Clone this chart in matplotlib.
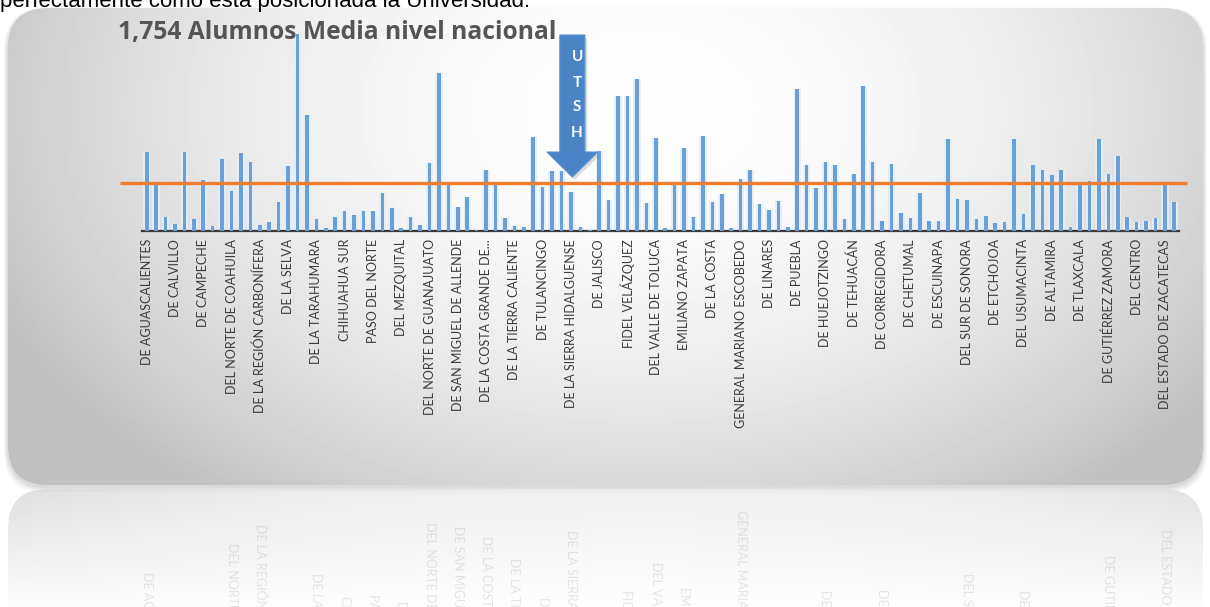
import numpy as np
import matplotlib
matplotlib.use("Agg")
import matplotlib.pyplot as plt
from matplotlib.patches import FancyBboxPatch, Polygon
from matplotlib.transforms import blended_transform_factory

# ---------------- data ----------------
values = [2920, 1750, 500, 240, 2900, 430, 1880, 190, 2660, 1450,
          2870, 2520, 210, 310, 1070, 2400, 7240, 4280, 430, 100,
          520, 730, 570, 730, 730, 1380, 830, 90, 500, 210,
          2490, 5820, 1750, 870, 1260, 40, 2250, 1690, 460, 170,
          120, 3470, 1600, 2210, 2190, 1410, 150, 20, 2930, 1150,
          4980, 4980, 5600, 1010, 3420, 90, 1810, 3050, 520, 3500,
          1040, 1360, 90, 1900, 2250, 990, 770, 1100, 130, 5210,
          2430, 1590, 2520, 2410, 420, 2100, 5330, 2520, 360, 2470,
          670, 460, 1380, 360, 360, 3390, 1160, 1140, 420, 540,
          300, 330, 3390, 610, 2410, 2220, 2060, 2250, 150, 1780,
          1840, 3380, 2100, 2760, 520, 330, 360, 460, 1750, 1070]

tick_labels = ["DE AGUASCALIENTES", "DE CALVILLO", "DE CAMPECHE", "DEL NORTE DE COAHUILA",
               "DE LA REGIÓN CARBONÍFERA", "DE LA SELVA", "DE LA TARAHUMARA", "CHIHUAHUA SUR",
               "PASO DEL NORTE", "DEL MEZQUITAL", "DEL NORTE DE GUANAJUATO",
               "DE SAN MIGUEL DE ALLENDE", "DE LA COSTA GRANDE DE...", "DE LA TIERRA CALIENTE",
               "DE TULANCINGO", "DE LA SIERRA HIDALGUENSE", "DE JALISCO", "FIDEL VELÁZQUEZ",
               "DEL VALLE DE TOLUCA", "EMILIANO ZAPATA", "DE LA COSTA",
               "GENERAL MARIANO ESCOBEDO", "DE LINARES", "DE PUEBLA", "DE HUEJOTZINGO",
               "DE TEHUACÁN", "DE CORREGIDORA", "DE CHETUMAL", "DE ESCUINAPA",
               "DEL SUR DE SONORA", "DE ETCHOJOA", "DEL USUMACINTA", "DE ALTAMIRA",
               "DE TLAXCALA", "DE GUTIÉRREZ ZAMORA", "DEL CENTRO", "DEL ESTADO DE ZACATECAS"]
label_step = 3
national_mean = 1754
utsh_label = "DE LA SIERRA HIDALGUENSE"
title = "1,754 Alumnos Media nivel nacional"
top_text = "perfectamente cómo esta posicionada la Universidad."

# ---------------- figure ----------------
W, H = 1210, 607
fig = plt.figure(figsize=(W / 100, H / 100), dpi=100)
fig.patch.set_facecolor("white")

# background axes in pixel coordinates
bg = fig.add_axes([0, 0, 1, 1])
bg.set_xlim(0, W)
bg.set_ylim(H, 0)
bg.axis("off")
bg.set_zorder(0)

# shadow of the panel
for i, a in enumerate([0.05, 0.05, 0.06, 0.07]):
    g = 8 - 2 * i
    sh = FancyBboxPatch((8 - g * 0.5, 10 - g * 0.3), 1195 + g, 477 + g,
                        boxstyle="round,pad=0,rounding_size=42",
                        facecolor="#606060", edgecolor="none", alpha=a)
    bg.add_patch(sh)

# gradient panel
yy, xx = np.mgrid[0:H, 0:W]
dx = (xx - 640) / 640.0
dy = (yy - 110) / 440.0
r2 = dx ** 2 + dy ** 2
grey = np.clip(0.995 - 0.20 * r2, 0.75, 0.995)
panel = FancyBboxPatch((8, 8), 1195, 477, boxstyle="round,pad=0,rounding_size=40",
                       facecolor="none", edgecolor="none")
bg.add_patch(panel)
im = bg.imshow(grey, cmap="gray", vmin=0, vmax=1, extent=(0, W, H, 0),
               interpolation="bilinear", zorder=1)
im.set_clip_path(panel)

# reflection
refl = FancyBboxPatch((8, 489), 1195, 200, boxstyle="round,pad=0,rounding_size=40",
                      facecolor="none", edgecolor="none")
bg.add_patch(refl)
rgba = np.zeros((H, W, 4))
rg = np.clip(0.93 - 0.10 * dx ** 2, 0.8, 0.95)
rgba[..., 0] = rg
rgba[..., 1] = rg
rgba[..., 2] = rg
rgba[..., 3] = np.clip(0.75 * (1 - (yy - 489) / 125.0), 0, 0.75)
im2 = bg.imshow(rgba, extent=(0, W, H, 0), interpolation="bilinear", zorder=1)
im2.set_clip_path(refl)

# top text (partly cut)
fig.text(0, (H - 7) / H, top_text, fontsize=16, family="Liberation Sans",
         color="black", va="baseline", ha="left")

# ---------------- chart axes ----------------
x0_px, x1_px = 142, 1179
base_px, top_px = 230.7, 30
ax = fig.add_axes([x0_px / W, (H - base_px) / H, (x1_px - x0_px) / W, (base_px - top_px) / H])
ax.set_zorder(2)
ax.patch.set_alpha(0)
n = len(values)
x = np.arange(n)
ax.set_xlim(-0.5, n - 0.5)
ax.set_ylim(0, 7400)

ax.bar(x, values, width=0.78, color="#e4eef8", alpha=0.9, zorder=2)
ax.bar(x, values, width=0.38, color="#6a9fd8", zorder=3)

ax.hlines(national_mean, -2.8, n + 0.4, colors="#ed7d31", linewidth=2.4, zorder=4,
          clip_on=False)

for s in ["top", "right", "left"]:
    ax.spines[s].set_visible(False)
ax.spines["bottom"].set_color("#3a3a3a")
ax.spines["bottom"].set_linewidth(1.6)
ax.set_yticks([])
tick_pos = x[::label_step][:len(tick_labels)]
ax.set_xticks(tick_pos)
ax.set_xticklabels(tick_labels, rotation=90, fontsize=9, family="Lato", color="#3c3c3c")
ax.tick_params(axis="x", length=0, pad=6)

# title
fig.text(118 / W, (H - 39) / H, title, fontsize=17.7, fontweight="bold", family="Open Sans",
         color="#555555", ha="left", va="baseline")

# UTSH arrow
utsh_idx = tick_pos[tick_labels.index(utsh_label)]
tr = blended_transform_factory(ax.transData, bg.transData)
cx = utsh_idx + 0.15
sw, hw = 1.33, 2.7
arrow_pts = [(cx - sw, 35), (cx + sw, 35), (cx + sw, 152), (cx + hw, 152),
             (cx, 177), (cx - hw, 152), (cx - sw, 152)]
shadow_pts = [(px + 0.25, py + 3) for px, py in arrow_pts]
ax.add_patch(Polygon(shadow_pts, closed=True, facecolor="#7a7a7a", alpha=0.25,
                     edgecolor="none", transform=tr, clip_on=False, zorder=5))
ax.add_patch(Polygon(arrow_pts, closed=True, facecolor="#4a84c7", edgecolor="#5a92d0",
                     linewidth=0.8, transform=tr, clip_on=False, zorder=6))
for ch, py in zip("UTSH", [57, 83, 107, 133]):
    ax.text(cx + 0.5, py, ch, transform=tr, color="white", fontsize=11, family="Lato",
            fontweight="bold", ha="center", va="center", zorder=7, clip_on=False)

# faint reflected labels
mirror_y = 468
for pos, lab in zip(tick_pos, tick_labels):
    xp = ax.transData.transform((pos, 0))[0]
    bg.text(xp, 2 * mirror_y - (base_px + 7), lab, rotation=-90, rotation_mode="anchor",
            ha="right", va="center", fontsize=9, family="Lato", color="#404040",
            alpha=0.13, zorder=2)

fig.savefig("out.png", dpi=100, facecolor="white")
